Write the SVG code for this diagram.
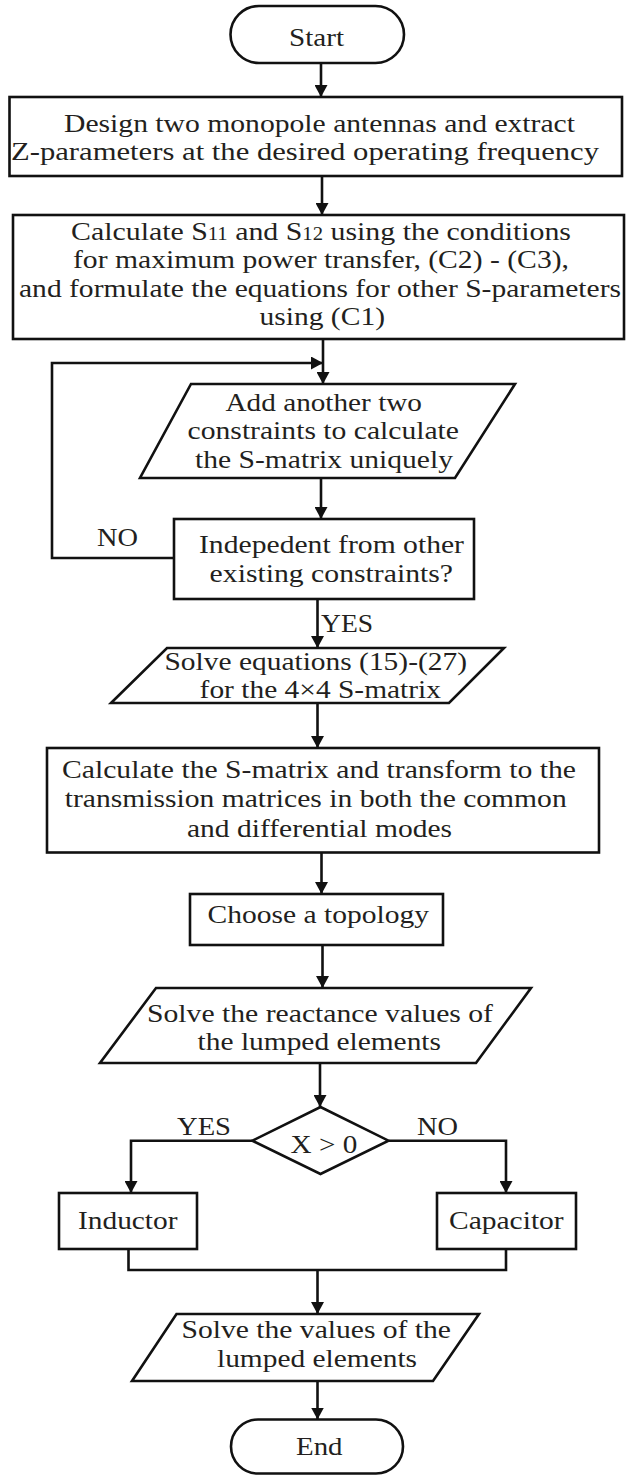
<svg xmlns="http://www.w3.org/2000/svg" width="626" height="1475" viewBox="0 0 626 1475">
<style>
.s{fill:#fff;stroke:#111;stroke-width:2.6;stroke-linejoin:miter}
.c{fill:none;stroke:#111;stroke-width:2.6}
.t{font-family:"Liberation Serif","Times New Roman",serif;font-size:26px;fill:#231f20}
.sm{font-size:18px}
</style>
<defs>
<marker id="ah" markerUnits="userSpaceOnUse" markerWidth="13" markerHeight="13" refX="12" refY="6.5" orient="auto">
<path d="M0,0 L12,6.5 L0,13 z" fill="#111"/>
</marker>
</defs>
<rect width="626" height="1475" fill="#fff"/>
<g id="connectors">
<path class="c" d="M321,63 V97" marker-end="url(#ah)"/>
<path class="c" d="M322,176 V215" marker-end="url(#ah)"/>
<path class="c" d="M323,339 V384" marker-end="url(#ah)"/>
<path class="c" d="M174,558 H52 V363 H323" marker-end="url(#ah)"/>
<path class="c" d="M321,478 V519" marker-end="url(#ah)"/>
<path class="c" d="M317.5,599 V648" marker-end="url(#ah)"/>
<path class="c" d="M317.5,703 V748" marker-end="url(#ah)"/>
<path class="c" d="M321.5,852.5 V894" marker-end="url(#ah)"/>
<path class="c" d="M322.5,945 V988" marker-end="url(#ah)"/>
<path class="c" d="M320,1063 V1107" marker-end="url(#ah)"/>
<path class="c" d="M252.3,1140.7 H131 V1193" marker-end="url(#ah)"/>
<path class="c" d="M388.5,1140.7 H506 V1193" marker-end="url(#ah)"/>
<path class="c" d="M128.5,1249 V1270 H506 V1249"/>
<path class="c" d="M317.5,1270 V1314" marker-end="url(#ah)"/>
<path class="c" d="M317.5,1381 V1419.5" marker-end="url(#ah)"/>
<text class="t" x="97" y="546" textLength="41" lengthAdjust="spacingAndGlyphs">NO</text>
<text class="t" x="321" y="632" textLength="52" lengthAdjust="spacingAndGlyphs">YES</text>
<text class="t" x="177" y="1135" textLength="54" lengthAdjust="spacingAndGlyphs">YES</text>
<text class="t" x="417" y="1135" textLength="41" lengthAdjust="spacingAndGlyphs">NO</text>
</g>
<g id="start">
<rect class="s" x="230.5" y="6" width="173.5" height="57" rx="28.5"/>
<text class="t" x="289" y="46" textLength="55" lengthAdjust="spacingAndGlyphs">Start</text>
</g>
<g id="design">
<rect class="s" x="9.5" y="97" width="612.5" height="79"/>
<text class="t" x="64" y="132" textLength="511" lengthAdjust="spacingAndGlyphs">Design two monopole antennas and extract</text>
<text class="t" x="11" y="160" textLength="588" lengthAdjust="spacingAndGlyphs">Z-parameters at the desired operating frequency</text>
</g>
<g id="calc-s11">
<rect class="s" x="13" y="215" width="611" height="124"/>
<text class="t" x="71" y="240" textLength="500" lengthAdjust="spacingAndGlyphs">Calculate S<tspan class="sm">11</tspan> and S<tspan class="sm">12</tspan> using the conditions</text>
<text class="t" x="73" y="268" textLength="496" lengthAdjust="spacingAndGlyphs">for maximum power transfer, (C2) - (C3),</text>
<text class="t" x="19" y="297" textLength="602" lengthAdjust="spacingAndGlyphs">and formulate the equations for other S-parameters</text>
<text class="t" x="259.5" y="325" textLength="125.5" lengthAdjust="spacingAndGlyphs">using (C1)</text>
</g>
<g id="add-constraints">
<polygon class="s" points="191,384 515,384 455,478 140,478"/>
<text class="t" x="225.5" y="411" textLength="196.5" lengthAdjust="spacingAndGlyphs">Add another two</text>
<text class="t" x="187.6" y="439" textLength="271.4" lengthAdjust="spacingAndGlyphs">constraints to calculate</text>
<text class="t" x="195" y="468" textLength="258" lengthAdjust="spacingAndGlyphs">the S-matrix uniquely</text>
</g>
<g id="independent">
<rect class="s" x="174" y="519" width="300" height="80"/>
<text class="t" x="199" y="553" textLength="265" lengthAdjust="spacingAndGlyphs">Indepedent from other</text>
<text class="t" x="209.6" y="582" textLength="243.4" lengthAdjust="spacingAndGlyphs">existing constraints?</text>
</g>
<g id="solve-eq">
<polygon class="s" points="167,648 504,648 449,703 111,703"/>
<text class="t" x="164.5" y="670" textLength="302.5" lengthAdjust="spacingAndGlyphs">Solve equations (15)-(27)</text>
<text class="t" x="199.6" y="698" textLength="241.4" lengthAdjust="spacingAndGlyphs">for the 4×4 S-matrix</text>
</g>
<g id="transform">
<rect class="s" x="47" y="748" width="552" height="104.5"/>
<text class="t" x="62" y="778" textLength="514" lengthAdjust="spacingAndGlyphs">Calculate the S-matrix and transform to the</text>
<text class="t" x="64.7" y="807" textLength="502" lengthAdjust="spacingAndGlyphs">transmission matrices in both the common</text>
<text class="t" x="187" y="837" textLength="265" lengthAdjust="spacingAndGlyphs">and differential modes</text>
</g>
<g id="topology">
<rect class="s" x="190" y="894" width="253" height="51"/>
<text class="t" x="207.6" y="923" textLength="221.4" lengthAdjust="spacingAndGlyphs">Choose a topology</text>
</g>
<g id="reactance">
<polygon class="s" points="156,988 531,988 476,1063 100,1063"/>
<text class="t" x="147" y="1022" textLength="346" lengthAdjust="spacingAndGlyphs">Solve the reactance values of</text>
<text class="t" x="197.6" y="1050" textLength="243.4" lengthAdjust="spacingAndGlyphs">the lumped elements</text>
</g>
<g id="decision">
<polygon class="s" points="320.5,1107 388.5,1140.7 320.5,1174 252.3,1140.7"/>
<text class="t" x="290.6" y="1153" textLength="66.7" lengthAdjust="spacingAndGlyphs">X &gt; 0</text>
</g>
<g id="inductor">
<rect class="s" x="59" y="1193" width="138" height="56"/>
<text class="t" x="78" y="1229" textLength="99.5" lengthAdjust="spacingAndGlyphs">Inductor</text>
</g>
<g id="capacitor">
<rect class="s" x="437" y="1193" width="139" height="56"/>
<text class="t" x="449" y="1229" textLength="114.7" lengthAdjust="spacingAndGlyphs">Capacitor</text>
</g>
<g id="solve-values">
<polygon class="s" points="176.5,1314 479,1314 433,1381 132,1381"/>
<text class="t" x="181.6" y="1338" textLength="269.4" lengthAdjust="spacingAndGlyphs">Solve the values of the</text>
<text class="t" x="217" y="1367" textLength="200" lengthAdjust="spacingAndGlyphs">lumped elements</text>
</g>
<g id="end">
<rect class="s" x="231" y="1419.5" width="172" height="54" rx="27"/>
<text class="t" x="296" y="1455" textLength="46.5" lengthAdjust="spacingAndGlyphs">End</text>
</g>
</svg>
